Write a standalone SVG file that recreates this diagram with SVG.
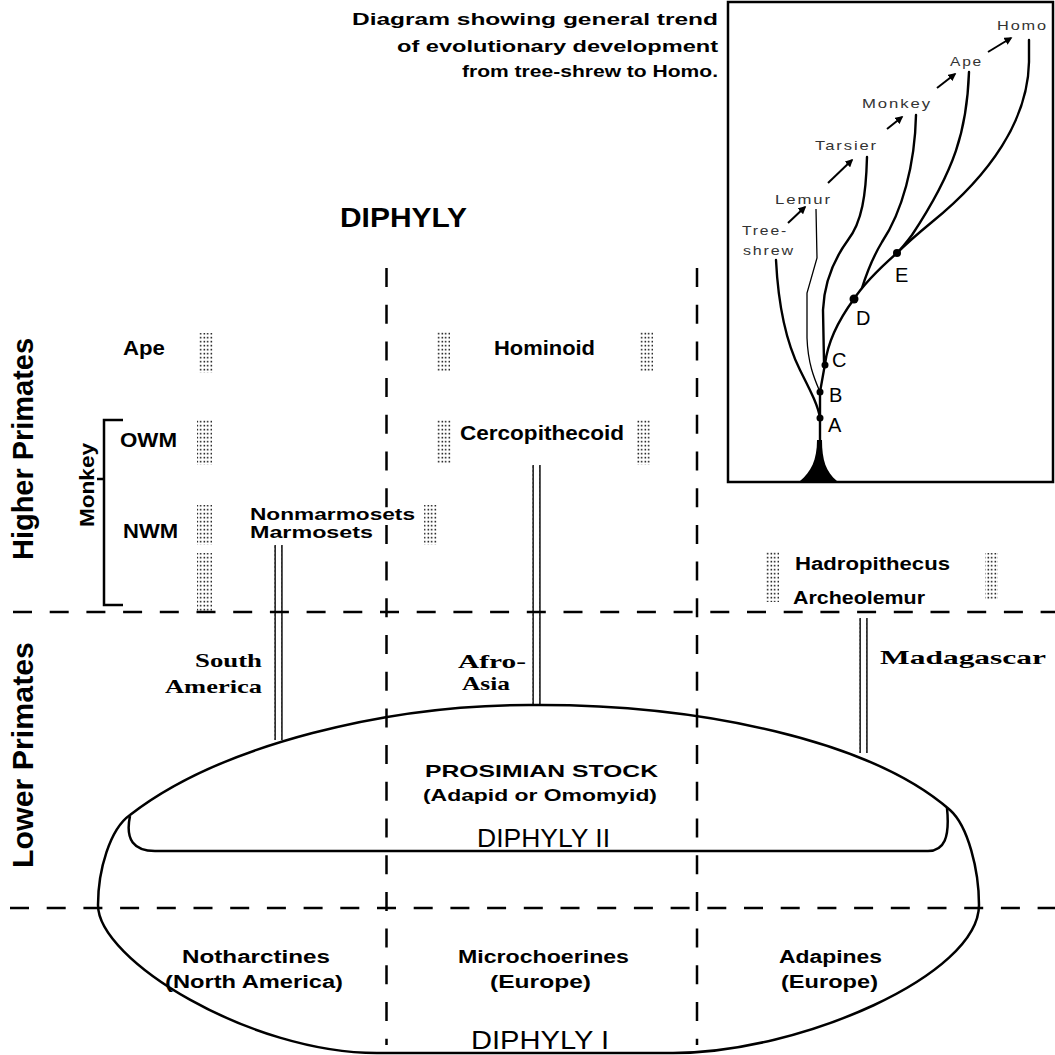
<svg xmlns="http://www.w3.org/2000/svg" width="1055" height="1055" viewBox="0 0 1055 1055">
<style>
.b{font-family:"Liberation Sans",Arial,sans-serif;font-weight:bold;fill:#000}
.r{font-family:"Liberation Sans",Arial,sans-serif;font-weight:normal;fill:#000}
.s{font-family:"Liberation Serif","Times New Roman",serif;font-weight:bold;fill:#000}
.it{font-family:"Liberation Sans",Arial,sans-serif;font-size:13px;fill:#333;letter-spacing:1.5px}
.dash{stroke:#000;stroke-width:2.5;stroke-dasharray:19 17.7;fill:none}
.ln{stroke:#000;fill:none;stroke-width:2.5}
.tr{stroke:#000;fill:none;stroke-width:2.4;stroke-linecap:round}
.arr{stroke:#000;stroke-width:2;fill:none;marker-end:url(#ah)}
</style>
<defs>
<pattern id="stip" width="3.5" height="4" patternUnits="userSpaceOnUse"><rect x="0.6" y="0.8" width="1.3" height="1.7" fill="#000"/></pattern>
<pattern id="wave" width="11" height="4" patternUnits="userSpaceOnUse"><path d="M1.2,0 L3,1 L1.2,2 L3,3 L1.2,4 M8,0 L9.8,1 L8,2 L9.8,3 L8,4" stroke="#000" stroke-width="1" fill="none"/></pattern>
<marker id="ah" viewBox="0 0 10 10" refX="8" refY="5" markerWidth="4" markerHeight="4" orient="auto"><path d="M0,0 L10,5 L0,10 z" fill="#000"/></marker>
</defs>
<rect width="1055" height="1055" fill="#fff"/>

<g id="title-note">
<text class="b" x="718" y="25" font-size="16" text-anchor="end" textLength="366" lengthAdjust="spacingAndGlyphs">Diagram showing general trend</text>
<text class="b" x="718" y="52" font-size="16" text-anchor="end" textLength="321" lengthAdjust="spacingAndGlyphs">of evolutionary development</text>
<text class="b" x="718" y="77" font-size="16" text-anchor="end" textLength="256" lengthAdjust="spacingAndGlyphs">from tree-shrew to Homo.</text>
</g>

<g id="diphyly-title"><text class="b" x="340" y="227" font-size="28" textLength="127" lengthAdjust="spacingAndGlyphs">DIPHYLY</text></g>

<g id="grid">
<line class="dash" x1="386.5" y1="268" x2="386.5" y2="1045"/>
<line class="dash" x1="697" y1="268" x2="697" y2="1045"/>
<line class="dash" x1="13" y1="612" x2="1055" y2="612"/>
<line class="dash" x1="10" y1="908" x2="1055" y2="908"/>
</g>

<g id="side-labels">
<text class="b" font-size="29" transform="translate(33,560) rotate(-90)" textLength="222" lengthAdjust="spacingAndGlyphs">Higher Primates</text>
<text class="b" font-size="29" transform="translate(33,868) rotate(-90)" textLength="226" lengthAdjust="spacingAndGlyphs">Lower Primates</text>
</g>

<g id="monkey-bracket">
<text class="b" font-size="21" transform="translate(94,527) rotate(-90)" textLength="84" lengthAdjust="spacingAndGlyphs">Monkey</text>
<path class="ln" d="M123,420 L104,420 L104,605 L123,605 M97,479 L104,479"/>
</g>

<g id="stipples" fill="url(#stip)">
<rect x="199" y="333" width="14" height="40"/>
<rect x="197" y="420" width="15" height="45"/>
<rect x="197" y="505" width="15" height="40"/>
<rect x="197" y="553" width="15" height="58"/>
<rect x="437" y="332" width="13" height="40"/>
<rect x="640" y="332" width="13" height="40"/>
<rect x="437" y="419" width="14" height="45"/>
<rect x="637" y="420" width="13" height="45"/>
<rect x="424" y="505" width="13" height="40"/>
<rect x="766" y="552" width="13" height="50"/>
<rect x="985" y="553" width="13" height="47"/>
</g>

<g id="node-ape"><text class="b" x="123" y="355" font-size="20" textLength="42" lengthAdjust="spacingAndGlyphs">Ape</text></g>
<g id="node-owm"><text class="b" x="120" y="447" font-size="20" textLength="57" lengthAdjust="spacingAndGlyphs">OWM</text></g>
<g id="node-nwm"><text class="b" x="123" y="538" font-size="20" textLength="55" lengthAdjust="spacingAndGlyphs">NWM</text></g>
<g id="node-marmosets">
<text class="b" x="250" y="520" font-size="17" textLength="165" lengthAdjust="spacingAndGlyphs">Nonmarmosets</text>
<text class="b" x="250" y="538" font-size="17" textLength="123" lengthAdjust="spacingAndGlyphs">Marmosets</text>
</g>
<g id="node-hominoid"><text class="b" x="494" y="355" font-size="20" textLength="101" lengthAdjust="spacingAndGlyphs">Hominoid</text></g>
<g id="node-cercopithecoid"><text class="b" x="460" y="440" font-size="20" textLength="164" lengthAdjust="spacingAndGlyphs">Cercopithecoid</text></g>
<g id="node-madagascar-higher">
<text class="b" x="795" y="570" font-size="18" textLength="155" lengthAdjust="spacingAndGlyphs">Hadropithecus</text>
<text class="b" x="793" y="604" font-size="18" textLength="132" lengthAdjust="spacingAndGlyphs">Archeolemur</text>
</g>

<g id="connectors">
<g transform="translate(273,545)"><rect width="11" height="195" fill="url(#wave)"/></g>
<g transform="translate(531,465)"><rect width="11" height="241" fill="url(#wave)"/></g>
<g transform="translate(858,618)"><rect width="11" height="135" fill="url(#wave)"/></g>
</g>

<g id="region-labels">
<text class="s" x="262" y="667" font-size="19" text-anchor="end" textLength="67" lengthAdjust="spacingAndGlyphs">South</text>
<text class="s" x="262" y="693" font-size="19" text-anchor="end" textLength="97" lengthAdjust="spacingAndGlyphs">America</text>
<text class="s" x="458" y="668" font-size="19" textLength="68" lengthAdjust="spacingAndGlyphs">Afro-</text>
<text class="s" x="462" y="690" font-size="19" textLength="48" lengthAdjust="spacingAndGlyphs">Asia</text>
<text class="s" x="880" y="664" font-size="19" textLength="166" lengthAdjust="spacingAndGlyphs">Madagascar</text>
</g>

<g id="node-prosimian-stock">
<path class="ln" d="M540,705 C700,705 870,740 950,810 C968,826 979,870 979,905 C979,975 800,1053 673,1053 L377,1053 C250,1053 98,960 98,905 C98,870 110,829 130,815 C220,745 390,703 540,705 Z"/>
<path class="ln" d="M130,816 C125,840 134,851 155,851 L928,851 C944,851 950,838 947,808"/>
<text class="b" x="425" y="777" font-size="17" textLength="233" lengthAdjust="spacingAndGlyphs">PROSIMIAN STOCK</text>
<text class="b" x="423" y="801" font-size="17" textLength="234" lengthAdjust="spacingAndGlyphs">(Adapid or Omomyid)</text>
<text class="r" x="477" y="847" font-size="26" textLength="133" lengthAdjust="spacingAndGlyphs">DIPHYLY II</text>
</g>

<g id="node-notharctines">
<text class="b" x="182" y="963" font-size="18" textLength="148" lengthAdjust="spacingAndGlyphs">Notharctines</text>
<text class="b" x="165" y="988" font-size="18" textLength="178" lengthAdjust="spacingAndGlyphs">(North America)</text>
</g>
<g id="node-microchoerines">
<text class="b" x="458" y="963" font-size="18" textLength="171" lengthAdjust="spacingAndGlyphs">Microchoerines</text>
<text class="b" x="490" y="988" font-size="18" textLength="101" lengthAdjust="spacingAndGlyphs">(Europe)</text>
</g>
<g id="node-adapines">
<text class="b" x="779" y="963" font-size="18" textLength="103" lengthAdjust="spacingAndGlyphs">Adapines</text>
<text class="b" x="781" y="988" font-size="18" textLength="97" lengthAdjust="spacingAndGlyphs">(Europe)</text>
</g>
<g id="diphyly-1"><text class="r" x="471" y="1049" font-size="26" textLength="138" lengthAdjust="spacingAndGlyphs">DIPHYLY I</text></g>

<g id="inset">
<rect x="728" y="2" width="325" height="480" fill="none" stroke="#000" stroke-width="2.5"/>
<text class="it" x="997" y="30" textLength="51" lengthAdjust="spacingAndGlyphs">Homo</text>
<text class="it" x="950" y="66" textLength="33" lengthAdjust="spacingAndGlyphs">Ape</text>
<text class="it" x="862" y="108" textLength="70" lengthAdjust="spacingAndGlyphs">Monkey</text>
<text class="it" x="815" y="150" textLength="63" lengthAdjust="spacingAndGlyphs">Tarsier</text>
<text class="it" x="775" y="204" textLength="57" lengthAdjust="spacingAndGlyphs">Lemur</text>
<text class="it" x="742" y="235" textLength="46" lengthAdjust="spacingAndGlyphs">Tree-</text>
<text class="it" x="743" y="255" textLength="52" lengthAdjust="spacingAndGlyphs">shrew</text>
<line class="arr" x1="988" y1="52" x2="1011" y2="38"/>
<line class="arr" x1="937" y1="88" x2="955" y2="74"/>
<line class="arr" x1="887" y1="129" x2="902" y2="117"/>
<line class="arr" x1="828" y1="183" x2="852" y2="160"/>
<line class="arr" x1="788" y1="223" x2="805" y2="207"/>
<path class="tr" d="M1029,40 L1029,62 C1028,120 990,175 932,222 C915,236 905,245 897,253"/>
<path class="tr" d="M969,72 C967,130 955,170 912,235 C906,243 901,249 897,253"/>
<path class="tr" d="M897,253 C880,268 865,282 854,299 C840,318 828,340 825,364 L820,392 L820,440"/>
<path class="tr" d="M916,115 C915,165 902,212 882,242 C873,257 867,272 862,288"/>
<path class="tr" d="M867,157 C866,195 862,222 848,240 C832,262 824,285 823,310 L824,362"/>
<path d="M816,209 L817,258 L807,293 L807,338 C808,365 815,380 820,392" stroke="#000" stroke-width="1.3" fill="none"/>
<path class="tr" d="M776,260 C778,300 785,340 800,370 C810,390 818,405 820,418"/>
<path d="M817,440 C817,460 811,472 800,481 L837,481 C826,472 822,460 822,440 Z" fill="#000"/>
<circle cx="820" cy="418" r="3.5"/>
<circle cx="820" cy="392" r="3.5"/>
<circle cx="825" cy="365" r="3.5"/>
<circle cx="854" cy="299" r="4.5"/>
<circle cx="897" cy="253" r="4"/>
<text class="r" x="828" y="432" font-size="20">A</text>
<text class="r" x="829" y="402" font-size="20">B</text>
<text class="r" x="832" y="367" font-size="20">C</text>
<text class="r" x="856" y="325" font-size="20">D</text>
<text class="r" x="895" y="282" font-size="20">E</text>
</g>
</svg>
